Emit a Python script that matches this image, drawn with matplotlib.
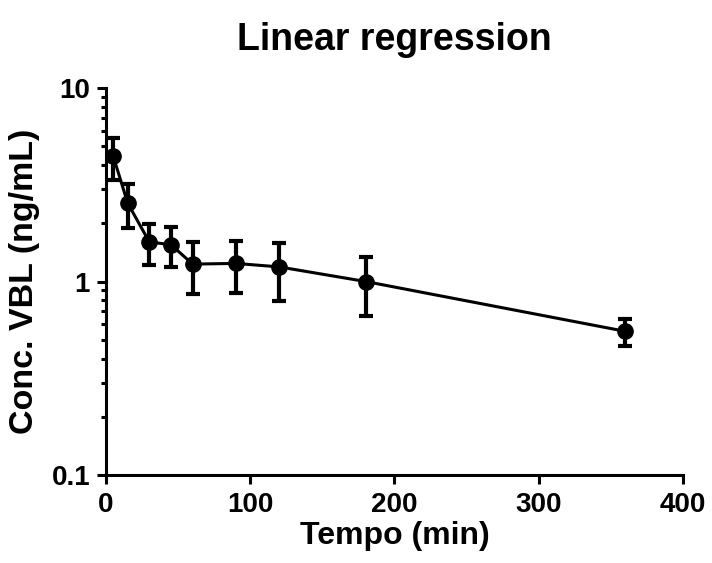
import matplotlib
matplotlib.use('Agg')
import matplotlib.pyplot as plt
from matplotlib.ticker import LogLocator, NullFormatter, FixedLocator

plt.rcParams['font.family'] = ['Liberation Sans', 'DejaVu Sans']
plt.rcParams['font.weight'] = 'bold'

# dados
tempo = [5, 15, 30, 45, 60, 90, 120, 180, 360]
conc = [4.43, 2.54, 1.60, 1.55, 1.23, 1.24, 1.19, 1.00, 0.553]
desvio = [1.10, 0.65, 0.38, 0.36, 0.37, 0.37, 0.40, 0.34, 0.09]

fig = plt.figure(figsize=(7.12, 5.63), dpi=100)
ax = fig.add_axes([0.149, 0.1563, 0.81, 0.6874])

ax.errorbar(tempo, conc, yerr=desvio, color='black', marker='o', markersize=11,
            linewidth=2.2, elinewidth=3, capsize=5, capthick=3, zorder=3)

ax.set_yscale('log')
ax.set_ylim(0.1, 10)
ax.set_xlim(0, 400)
ax.xaxis.set_major_locator(FixedLocator([0, 100, 200, 300, 400]))
ax.yaxis.set_major_locator(FixedLocator([0.1, 1, 10]))
ax.yaxis.set_minor_locator(LogLocator(base=10, subs=range(2, 10)))
ax.yaxis.set_minor_formatter(NullFormatter())
ax.set_yticklabels(['0.1', '1', '10'])

for s in ['top', 'right']:
    ax.spines[s].set_visible(False)
for s in ['left', 'bottom']:
    ax.spines[s].set_linewidth(2.2)

ax.tick_params(which='major', direction='out', length=6.5, width=2.2, labelsize=20, pad=5)
ax.tick_params(axis='x', which='major', pad=6)
ax.tick_params(which='minor', direction='out', length=3.5, width=2.2)
ax.tick_params(axis='x', which='minor', length=0)

ax.set_xlabel('Tempo (min)', fontsize=23, fontweight='bold', labelpad=2)
ax.set_ylabel('Conc. VBL (ng/mL)', fontsize=24.5, fontweight='bold', labelpad=8)
ax.set_title('Linear regression', fontsize=27, fontweight='bold', pad=27)

fig.savefig('out.png', dpi=100)
